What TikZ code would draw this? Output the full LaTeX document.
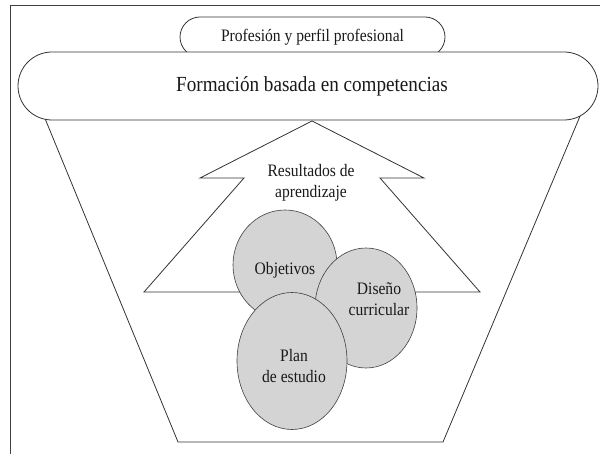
\documentclass[tikz,border=0pt]{standalone}
\usepackage{fontspec}
\setmainfont{Liberation Serif}[FakeStretch=0.89]
\usetikzlibrary{shapes.geometric}
\begin{document}
\begin{tikzpicture}[x=1pt,y=-1pt,
  line/.style={draw=black!80, line width=0.8pt},
  txt/.style={font=\fontsize{17.5}{21.5}\selectfont, align=center, text=black!90, inner sep=0pt},
  oval/.style={ellipse, draw=black!75, line width=0.6pt, fill=black!17, inner sep=0pt}]
\useasboundingbox (0,0) rectangle (600,454);
% frame
\coordinate (f1) at (10.5,454);
\coordinate (f2) at (10.5,5.5);
\coordinate (f3) at (600,5.5);
\draw[line, draw=black!75] (f1) -- (f2) -- (f3);
% funnel
\coordinate (tl) at (41.5,110);
\coordinate (bl) at (178,442);
\coordinate (br) at (443,442);
\coordinate (tr) at (582.6,110);
\draw[line] (tl) -- (bl) -- (br) -- (tr);
% arrow
\coordinate (apex) at (312,121);
\coordinate (lw) at (200,178);
\coordinate (ln) at (244,178);
\coordinate (lb) at (144,292);
\coordinate (rb) at (480,292);
\coordinate (rn) at (380,178);
\coordinate (rw) at (424,178);
\draw[line] (apex) -- (lw) -- (ln) -- (lb) -- (rb) -- (rn) -- (rw) -- cycle;
% top boxes
\node[line, fill=white, rounded corners=20pt, minimum width=265pt, minimum height=40pt,
      font=\fontsize{17.5}{20}\selectfont, text=black!90] (prof) at (312.5,37) {Profesión y perfil profesional};
\node[line, fill=white, rounded corners=34pt, minimum width=580pt, minimum height=68pt,
      font=\fontsize{21.5}{24}\selectfont, text=black!90] (form) at (308,86) {\hspace{8pt}Formación basada en competencias};
\node[txt] (res) at (311,183) {Resultados de\\aprendizaje};
% ellipses
\node[oval, minimum width=104pt, minimum height=110pt] (obj) at (285,265) {};
\node[txt] (objt) at (285,270) {Objetivos};
\node[oval, minimum width=102pt, minimum height=120pt] (dis) at (366,308) {};
\node[txt] (dist) at (379,299) {Diseño\\curricular};
\node[oval, minimum width=110pt, minimum height=137pt] (plan) at (292,361) {};
\node[txt] (plant) at (294,366) {Plan\\de estudio};
\end{tikzpicture}
\end{document}
